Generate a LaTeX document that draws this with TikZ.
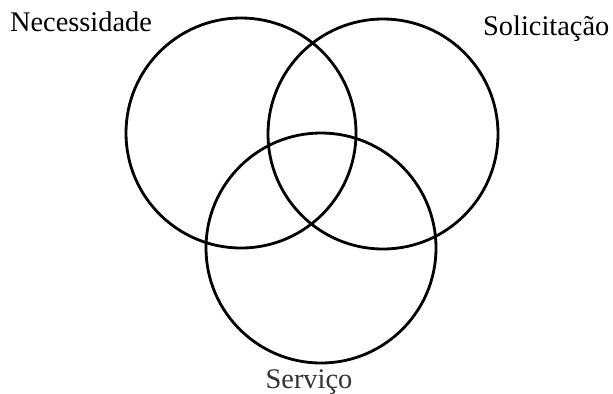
\documentclass[tikz,border=0pt]{standalone}
\usepackage{fontspec}
\setmainfont{Liberation Serif}
\usepackage{tikz}
\usetikzlibrary{positioning}
\tikzset{
  venn/.style={circle, draw=black, line width=2.8bp, minimum size=230bp, inner sep=0pt},
  lbl/.style={font=\fontsize{28.5}{32}\selectfont, inner sep=0pt},
}

\begin{document}
\begin{tikzpicture}[x=1bp, y=-1bp]
    \useasboundingbox (0,0) rectangle (613,393);

    \node[venn] (necess) at (241,133) {};
    \node[venn] (solic) at (383,134) {};
    \node[venn] (serv) at (321,248) {};

    \node[lbl, anchor=base] (necesslbl) at (81,31) {Necessidade};
    \node[lbl, anchor=base west] (soliclbl) at (483,35) {Solicitação};
    \node[lbl, anchor=base, text=black!80] (servlbl) at (309,388) {Serviço};
\end{tikzpicture}
\end{document}
